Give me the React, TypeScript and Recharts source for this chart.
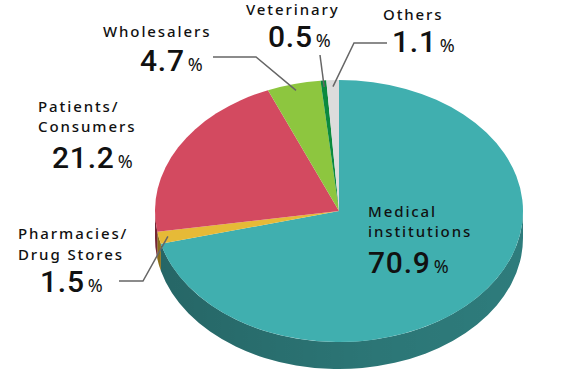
import React from "react";
import { PieChart, Pie, Cell } from "recharts";

// shares in %, clockwise from 12 o'clock
const CATEGORIES = [
  "Medical institutions",
  "Pharmacies/Drug Stores",
  "Patients/Consumers",
  "Wholesalers",
  "Veterinary",
  "Others",
];
const SHARES = [70.9, 1.5, 21.2, 4.7, 0.5, 1.1];
const LABEL_LINES = [
  ["Medical", "institutions"],
  ["Pharmacies/", "Drug Stores"],
  ["Patients/", "Consumers"],
  ["Wholesalers"],
  ["Veterinary"],
  ["Others"],
];

const COLORS = ["#40afaf", "#e6ba37", "#d34a60", "#8dc63f", "#0b8a3e", "#dcdcdc"];
const SIDE_COLORS = ["#2e7c7c", "#a8861f", "#8e2f3f", "#5f8a28", "#06602a", "#a0a0a0"];

// label layout: x of text, baselines of text lines, number line x/baseline, leader points
const LAYOUT = [
  { x: 368, ys: [217, 237], nx: 368, ny: 273, leader: null },
  { x: 18, ys: [239, 260], nx: 40, ny: 292, leader: [[119, 281], [143, 281]] },
  { x: 38, ys: [112, 132], nx: 52, ny: 168, leader: null },
  { x: 103, ys: [37], nx: 140, ny: 71, leader: [[213, 57], [256, 57]] },
  { x: 246, ys: [15], nx: 268, ny: 47, leader: [[320, 55]] },
  { x: 383, ys: [20], nx: 392, ny: 52, leader: [[387, 43], [354, 43]] },
];

const data = CATEGORIES.map((name, i) => ({ name, value: SHARES[i] }));

const K = 131 / 184; // vertical squash of the tilted disc
const DEPTH = 27;
const FONT = "'Noto Sans', 'Noto Sans CJK JP', sans-serif";
const NUM_FONT = "Roboto, 'Noto Sans', sans-serif";

const pt = (cx: number, cy: number, r: number, a: number) => {
  const rad = (a * Math.PI) / 180;
  return [cx + r * Math.cos(rad), cy - r * K * Math.sin(rad)];
};

function renderSlice(p: any) {
  const { cx, cy, outerRadius: r, startAngle, endAngle, index } = p;
  const i = index ?? CATEGORIES.indexOf(p.name ?? p.payload?.name);
  const hi = Math.max(startAngle, endAngle);
  const lo = Math.min(startAngle, endAngle);
  const ry = r * K;
  const a = pt(cx, cy, r, hi);
  const b = pt(cx, cy, r, lo);
  const large = hi - lo > 180 ? 1 : 0;
  const top = `M${cx},${cy} L${a[0]},${a[1]} A${r},${ry} 0 ${large} 1 ${b[0]},${b[1]} Z`;

  // visible rim: front half of the ellipse (angles -180..0 mod 360)
  const sides: string[] = [];
  for (const k of [-1, 0, 1]) {
    const h2 = Math.min(hi, 360 * k);
    const l2 = Math.max(lo, -180 + 360 * k);
    if (h2 > l2) {
      const p1 = pt(cx, cy, r, h2);
      const p2 = pt(cx, cy, r, l2);
      sides.push(
        `M${p1[0]},${p1[1]} A${r},${ry} 0 0 1 ${p2[0]},${p2[1]} L${p2[0]},${p2[1] + DEPTH} A${r},${ry} 0 0 0 ${p1[0]},${p1[1] + DEPTH} Z`
      );
    }
  }
  const gid = `rimShade${i}`;
  return (
    <g>
      <defs>
        <linearGradient id={gid} gradientUnits="userSpaceOnUse" x1={cx - r} y1={0} x2={cx + r} y2={0}>
          <stop offset="0%" stopColor="#000" stopOpacity={0.18} />
          <stop offset="60%" stopColor="#000" stopOpacity={0.05} />
          <stop offset="100%" stopColor="#000" stopOpacity={0} />
        </linearGradient>
      </defs>
      {sides.map((d, j) => (
        <g key={j}>
          <path d={d} fill={SIDE_COLORS[i]} stroke="none" />
          <path d={d} fill={`url(#${gid})`} stroke="none" />
        </g>
      ))}
      <path d={top} fill={COLORS[i]} stroke="none" />
    </g>
  );
}

function renderLabel(p: any) {
  const { cx, cy, outerRadius: r, midAngle, index } = p;
  const lay = LAYOUT[index];
  const end = pt(cx, cy, r * 0.95, midAngle);
  const pts = lay.leader ? [...lay.leader, end] : null;
  return (
    <g key={`lbl-${index}`}>
      {pts && (
        <polyline
          points={pts.map(q => q.join(",")).join(" ")}
          fill="none"
          stroke="#666"
          strokeWidth={1.5}
        />
      )}
      {LABEL_LINES[index].map((t, j) => (
        <text
          key={j}
          x={lay.x}
          y={lay.ys[j]}
          fontFamily={FONT}
          fontSize={15}
          fontWeight={500}
          letterSpacing={1.9}
          fill="#111"
        >
          {t}
        </text>
      ))}
      <text x={lay.nx} y={lay.ny} fontFamily={NUM_FONT} fill="#111">
        <tspan fontSize={30} fontWeight={500} letterSpacing={0.8}>
          {SHARES[index].toFixed(1)}
        </tspan>
        <tspan fontSize={18} dx={3} fontFamily={FONT}>%</tspan>
      </text>
    </g>
  );
}

export default function App() {
  return (
    <div style={{ position: "absolute", left: 0, top: 0, width: 570, height: 378, background: "#fff" }}>
      <PieChart width={570} height={378} margin={{ top: 0, right: 0, bottom: 0, left: 0 }}>
        <Pie
          data={data}
          dataKey="value"
          nameKey="name"
          cx={339}
          cy={211}
          outerRadius={184}
          startAngle={90}
          endAngle={-270}
          stroke="none"
          shape={renderSlice}
          label={renderLabel}
          labelLine={false}
          isAnimationActive={false}
        >
          {data.map((d, i) => (
            <Cell key={d.name} fill={COLORS[i]} />
          ))}
        </Pie>
      </PieChart>
    </div>
  );
}
